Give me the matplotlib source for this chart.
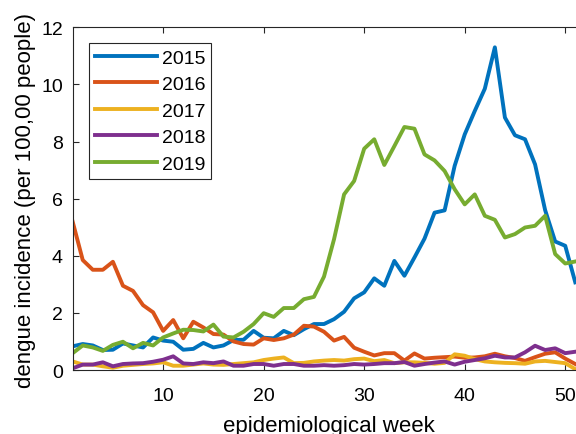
import numpy as np
import matplotlib
matplotlib.use("Agg")
import matplotlib.pyplot as plt

# weekly dengue incidence (weeks 1..51)
weeks = list(range(1, 52))

inc_2015 = [0.83, 0.91, 0.86, 0.70, 0.71, 0.93, 0.86, 0.79, 1.14, 1.03,
            0.99, 0.71, 0.74, 0.95, 0.79, 0.86, 1.05, 1.06, 1.37, 1.13,
            1.11, 1.37, 1.22, 1.43, 1.61, 1.61, 1.78, 2.04, 2.51, 2.72,
            3.21, 2.95, 3.82, 3.30, 3.94, 4.60, 5.51, 5.59, 7.15, 8.25,
            9.07, 9.85, 11.30, 8.84, 8.22, 8.08, 7.20, 5.60, 4.50, 4.35,
            3.07]
inc_2016 = [5.19, 3.85, 3.51, 3.51, 3.79, 2.95, 2.77, 2.27, 2.02, 1.37,
            1.75, 1.11, 1.69, 1.49, 1.26, 1.24, 1.00, 0.91, 0.89, 1.11,
            1.05, 1.11, 1.24, 1.55, 1.52, 1.34, 1.03, 1.16, 0.78, 0.64,
            0.51, 0.59, 0.59, 0.33, 0.58, 0.40, 0.43, 0.45, 0.47, 0.43,
            0.44, 0.48, 0.57, 0.48, 0.42, 0.32, 0.45, 0.57, 0.62, 0.40,
            0.21]
inc_2017 = [0.30, 0.19, 0.19, 0.13, 0.08, 0.15, 0.18, 0.21, 0.23, 0.27,
            0.15, 0.15, 0.19, 0.23, 0.19, 0.18, 0.21, 0.24, 0.27, 0.35,
            0.40, 0.44, 0.24, 0.25, 0.30, 0.33, 0.35, 0.33, 0.38, 0.40,
            0.31, 0.35, 0.24, 0.27, 0.27, 0.25, 0.22, 0.25, 0.55, 0.50,
            0.38, 0.30, 0.27, 0.25, 0.24, 0.22, 0.30, 0.32, 0.28, 0.24,
            0.03]
inc_2018 = [0.06, 0.19, 0.19, 0.27, 0.13, 0.21, 0.23, 0.24, 0.29, 0.36,
            0.48, 0.23, 0.21, 0.27, 0.24, 0.30, 0.15, 0.15, 0.21, 0.21,
            0.15, 0.21, 0.21, 0.15, 0.15, 0.17, 0.15, 0.17, 0.21, 0.19,
            0.21, 0.24, 0.24, 0.28, 0.15, 0.21, 0.26, 0.30, 0.19, 0.29,
            0.35, 0.41, 0.50, 0.44, 0.44, 0.62, 0.85, 0.70, 0.76, 0.59,
            0.64]
inc_2019 = [0.59, 0.86, 0.79, 0.67, 0.88, 0.99, 0.76, 0.95, 0.86, 1.14,
            1.28, 1.41, 1.40, 1.35, 1.59, 1.17, 1.14, 1.34, 1.61, 1.99,
            1.86, 2.17, 2.17, 2.48, 2.56, 3.27, 4.58, 6.15, 6.62, 7.75,
            8.08, 7.18, 7.84, 8.51, 8.45, 7.55, 7.34, 6.97, 6.33, 5.80,
            6.15, 5.40, 5.26, 4.64, 4.76, 4.99, 5.05, 5.40, 4.06, 3.73,
            3.80]

years = ["2015", "2016", "2017", "2018", "2019"]
series = [inc_2015, inc_2016, inc_2017, inc_2018, inc_2019]
# matlab default line colours
colors = ["#0072BD", "#D95319", "#EDB120", "#7E2F8E", "#77AC30"]

plt.rcParams["font.family"] = ["Liberation Sans", "DejaVu Sans"]

fig = plt.figure(figsize=(5.76, 4.35), dpi=100)
# axes run past the right edge, like the cropped original
ax = fig.add_axes([0.1262, 0.1471, 0.890, 0.7878])

for yr, vals, c in zip(years, series, colors):
    ax.plot(weeks, vals, color=c, lw=2.8, label=yr)

ax.set_xlim(1, 52)
ax.set_ylim(0, 12)
ax.set_xticks([10, 20, 30, 40, 50])
ax.set_yticks([0, 2, 4, 6, 8, 10, 12])
ax.tick_params(direction="in", top=True, right=True, labelsize=14,
               length=4, width=0.8, color="#262626", labelcolor="black")
ax.tick_params(axis="x", pad=12)
ax.tick_params(axis="y", pad=7)
for s in ax.spines.values():
    s.set_linewidth(0.8)
    s.set_color("#262626")

ax.set_xlabel("epidemiological week", fontsize=16)
ax.xaxis.label.set_va("baseline")
ax.xaxis.set_label_coords(0.5, -0.178)
ax.set_ylabel("dengue incidence (per 100,00 people)", fontsize=16)
ax.yaxis.set_label_coords(-0.0716, 0.499)

leg = ax.legend(loc="upper left", bbox_to_anchor=(0.0318, 0.954), fontsize=14,
                handlelength=3.2, handletextpad=0.24, labelspacing=0.46,
                borderpad=0.3, borderaxespad=0, fancybox=False, framealpha=1)
leg.get_frame().set_edgecolor("#262626")
leg.get_frame().set_linewidth(0.8)

fig.savefig("out.png", dpi=100)
